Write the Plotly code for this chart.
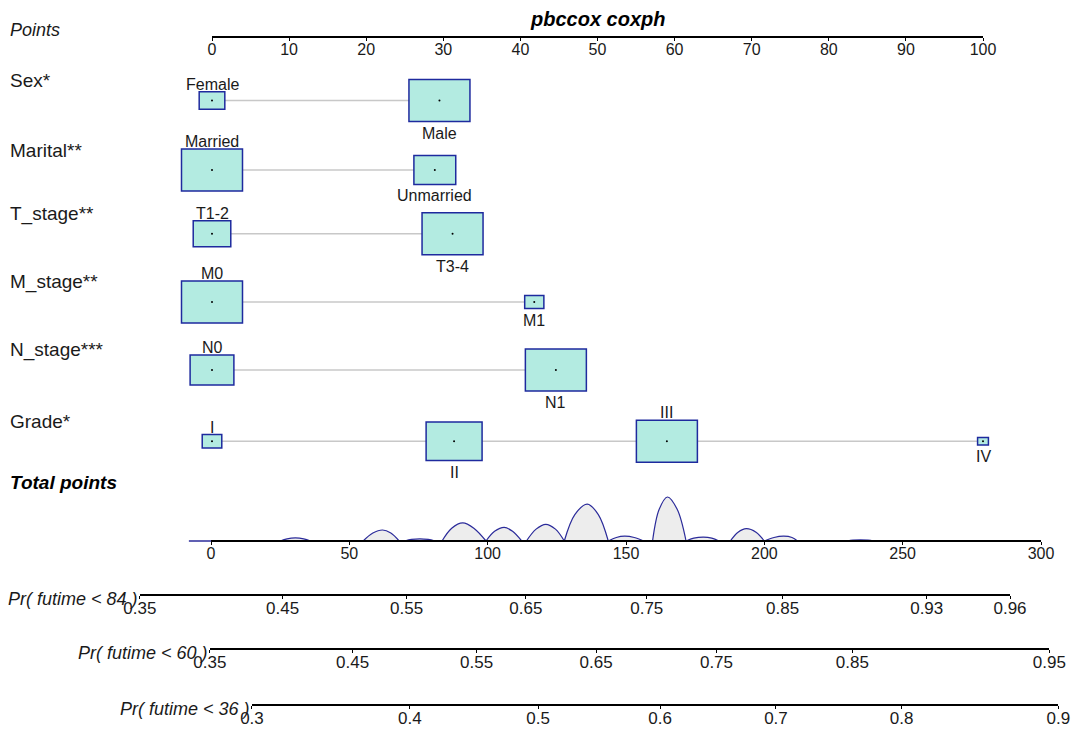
import plotly.graph_objects as go

W, H = 1080, 731
OFF = 8          # the page puts the figure 8px in from the top-left corner

# ---- values ----
variables = ["Sex*", "Marital**", "T_stage**", "M_stage**", "N_stage***", "Grade*"]

sex_levels = ["Female", "Male"]
sex_points = [0, 29.5]
sex_freq = [0.15, 0.85]

marital_levels = ["Married", "Unmarried"]
marital_points = [0, 28.9]
marital_freq = [0.68, 0.32]

t_levels = ["T1-2", "T3-4"]
t_points = [0, 31.2]
t_freq = [0.275, 0.725]

m_levels = ["M0", "M1"]
m_points = [0, 41.8]
m_freq = [0.91, 0.09]

n_levels = ["N0", "N1"]
n_points = [0, 44.6]
n_freq = [0.34, 0.66]

grade_levels = ["I", "II", "III", "IV"]
grade_points = [0, 31.4, 59.0, 100]
grade_freq = [0.052, 0.426, 0.506, 0.016]

points_ticks = [0, 10, 20, 30, 40, 50, 60, 70, 80, 90, 100]
total_ticks = [0, 50, 100, 150, 200, 250, 300]

# density of total points (relative height), bumps separated by zeros
dens_x = [-8, 0, 25, 27.5, 30.5, 33.5, 36, 55, 58.5, 62, 65, 68, 70, 72.5, 75.5, 78.5, 81,
          83.5, 87, 91, 95, 99.4, 102.5, 106, 109, 112.3, 114, 117.5, 121, 124.5, 127.7,
          131.5, 136, 140, 143.6, 146.5, 149.5, 153, 156.4, 159.6, 162, 165, 168.5, 171.7,
          174.5, 178, 181, 183.6, 187.7, 190.5, 193.5, 197, 200, 203.5, 207, 210, 212,
          230, 232, 237.5, 239.5]
dens_y = [0, 0, 0, 0.05, 0.07, 0.05, 0, 0, 0.18, 0.25, 0.18, 0, 0, 0.035, 0.05, 0.035, 0,
          0, 0.29, 0.41, 0.29, 0, 0.22, 0.31, 0.22, 0, 0, 0.27, 0.38, 0.27, 0,
          0.6, 0.84, 0.6, 0, 0.08, 0.11, 0.08, 0, 0, 0.72, 1.0, 0.72, 0,
          0.065, 0.09, 0.065, 0, 0, 0.2, 0.28, 0.2, 0, 0.08, 0.11, 0.08, 0,
          0, 0.02, 0.02, 0]

pr84_labels = ["0.35", "0.45", "0.55", "0.65", "0.75", "0.85", "0.93", "0.96"]
pr84_pos = [-25.7, 25.9, 70.7, 113.8, 157.5, 206.6, 258.7, 288.8]
pr60_labels = ["0.35", "0.45", "0.55", "0.65", "0.75", "0.85", "0.95"]
pr60_pos = [-0.4, 51.2, 96.0, 139.2, 182.7, 231.8, 303.0]
pr36_labels = ["0.3", "0.4", "0.5", "0.6", "0.7", "0.8", "0.9"]
pr36_pos = [14.8, 71.9, 118.2, 162.3, 204.2, 249.6, 306.3]

# ---- geometry (reference pixels) ----
FW, FH = W - OFF, H - OFF
PT0, PT100 = 212, 983        # points axis
TP0, TP300 = 211, 1041       # total points axis
PX_PT = (PT100 - PT0) / 100
PX_TP = (TP300 - TP0) / 300
BASE = 541                   # total points baseline
DENS_H = 44                  # height of tallest density bump
row_y = [100.5, 170, 233.7, 302, 370, 441.3]
BOX_W, BOX_H = 61, 42


def xfrac(px):
    return (px - OFF) / FW


def yfrac(py):
    return 1 - (py - OFF) / FH


FONT = "Liberation Sans, Arial, sans-serif"
TXT = "#1a1a1a"
BOX_FILL = "#B3EBE1"
BOX_LINE = "#1E2A9E"
DENS_LINE = "#2B2B9A"

levels = [sex_levels, marital_levels, t_levels, m_levels, n_levels, grade_levels]
points = [sex_points, marital_points, t_points, m_points, n_points, grade_points]
freqs = [sex_freq, marital_freq, t_freq, m_freq, n_freq, grade_freq]

fig = go.Figure()
shapes = []
annotations = []

for name, lv, pts, fq, y in zip(variables, levels, points, freqs, row_y):
    annotations.append(dict(text=name, x=0, xref="paper", y=y - 20, yref="y",
                            xanchor="left", yanchor="middle", showarrow=False,
                            font=dict(size=19, family=FONT, color=TXT)))
    shapes.append(dict(type="line", xref="x", yref="y", x0=min(pts), x1=max(pts), y0=y, y1=y,
                       line=dict(color="#C8C8C8", width=1.5), layer="below"))
    fmax = max(fq)
    for i, (lab, p, f) in enumerate(zip(lv, pts, fq)):
        s = (f / fmax) ** 0.5
        hw = BOX_W * s / 2 / PX_PT
        hh = BOX_H * s / 2
        shapes.append(dict(type="rect", xref="x", yref="y", x0=p - hw, x1=p + hw,
                           y0=y - hh, y1=y + hh, fillcolor=BOX_FILL,
                           line=dict(color=BOX_LINE, width=1.5), layer="below"))
        if i % 2 == 0:
            ly, anc = y - hh + 3, "bottom"
        else:
            ly, anc = y + hh + 1, "top"
        annotations.append(dict(text=lab, x=p, xref="x", y=ly, yref="y", xanchor="center",
                                yanchor=anc, showarrow=False,
                                font=dict(size=16, family=FONT, color=TXT)))
    fig.add_trace(go.Scatter(x=pts, y=[y] * len(pts), mode="markers",
                             marker=dict(size=2, color="black"),
                             showlegend=False, hoverinfo="skip"))

# density of total points: one filled trace per bump
segs, cur = [], []
for xv, yv in zip(dens_x, dens_y):
    cur.append((xv, yv))
    if yv == 0 and len(cur) > 1:
        segs.append(cur)
        cur = [(xv, yv)]
for seg in segs:
    if all(v == 0 for _, v in seg):
        if seg[0][0] < 0:  # bit of baseline left of 0
            fig.add_trace(go.Scatter(x=[a for a, _ in seg], y=[b for _, b in seg],
                                     xaxis="x2", yaxis="y2", mode="lines",
                                     line=dict(color=DENS_LINE, width=1.5),
                                     showlegend=False, hoverinfo="skip"))
        continue
    fig.add_trace(go.Scatter(x=[a for a, _ in seg], y=[b for _, b in seg],
                             xaxis="x2", yaxis="y2", mode="lines",
                             line=dict(color=DENS_LINE, width=1.2, shape="spline",
                                       smoothing=1.0),
                             fill="tozeroy", fillcolor="#EDEDED",
                             showlegend=False, hoverinfo="skip"))

# text labels
annotations += [
    dict(text="<b><i>pbccox coxph</i></b>", x=xfrac(597), xref="paper", y=19, yref="y",
         xanchor="center", yanchor="middle", showarrow=False,
         font=dict(size=20, family=FONT, color="black")),
    dict(text="<i>Points</i>", x=0, xref="paper", y=30, yref="y",
         xanchor="left", yanchor="middle", showarrow=False,
         font=dict(size=18, family=FONT, color=TXT)),
    dict(text="<b><i>Total points</i></b>", x=0, xref="paper", y=482, yref="y",
         xanchor="left", yanchor="middle", showarrow=False,
         font=dict(size=19, family=FONT, color="black")),
]

axis_style = dict(showline=True, linecolor="black", linewidth=1.5, ticks="outside",
                  ticklen=3, tickcolor="black", tickwidth=1, showgrid=False, zeroline=False,
                  anchor="free", side="bottom", automargin=False, fixedrange=True,
                  ticklabelstandoff=-5)

layout_axes = {}
layout_axes["xaxis3"] = dict(axis_style, domain=[xfrac(PT0), xfrac(PT100)], range=[0, 100],
                             tickvals=points_ticks, position=yfrac(37),
                             tickfont=dict(size=16, family=FONT, color=TXT))
layout_axes["xaxis4"] = dict(axis_style, domain=[xfrac(TP0), xfrac(TP300)], range=[0, 300],
                             tickvals=total_ticks, position=yfrac(BASE),
                             tickfont=dict(size=16, family=FONT, color=TXT))

prob_axes = [("84", pr84_labels, pr84_pos, 595), ("60", pr60_labels, pr60_pos, 649),
             ("36", pr36_labels, pr36_pos, 705)]
for k, (t, labs, pos, ly) in enumerate(prob_axes):
    d0 = xfrac(TP0 + pos[0] * PX_TP)
    d1 = xfrac(TP0 + pos[-1] * PX_TP)
    layout_axes["xaxis%d" % (5 + k)] = dict(axis_style, domain=[d0, d1],
                                            range=[pos[0], pos[-1]],
                                            tickvals=pos, ticktext=labs, position=yfrac(ly),
                                            tickfont=dict(size=17, family=FONT, color=TXT))
    annotations.append(dict(text="<i>Pr( futime < %s )</i>" % t, x=pos[0], xref="x2",
                            y=ly + 4, yref="y", xanchor="right", yanchor="middle",
                            showarrow=False,
                            font=dict(size=18, family=FONT, color=TXT)))

for k in range(3, 8):
    fig.add_trace(go.Scatter(x=[0], y=[-1000], xaxis="x%d" % k, yaxis="y", mode="markers",
                             marker=dict(size=1, opacity=0), showlegend=False,
                             hoverinfo="skip"))

hidden = dict(visible=False, automargin=False, fixedrange=True)
fig.update_layout(
    template="none",
    width=FW, height=FH,
    margin=dict(l=0, r=0, t=0, b=0, pad=0, autoexpand=False),
    paper_bgcolor="white", plot_bgcolor="rgba(0,0,0,0)",
    showlegend=False,
    xaxis=dict(hidden, domain=[0, 1], range=[(OFF - PT0) / PX_PT, (W - PT0) / PX_PT]),
    yaxis=dict(hidden, domain=[0, 1], range=[H, OFF]),
    xaxis2=dict(hidden, overlaying="x", range=[(OFF - TP0) / PX_TP, (W - TP0) / PX_TP]),
    yaxis2=dict(hidden, overlaying="y", range=[-(H - BASE) / DENS_H, (BASE - OFF) / DENS_H]),
    shapes=shapes, annotations=annotations,
    **layout_axes,
)

fig.write_html("out.html")
